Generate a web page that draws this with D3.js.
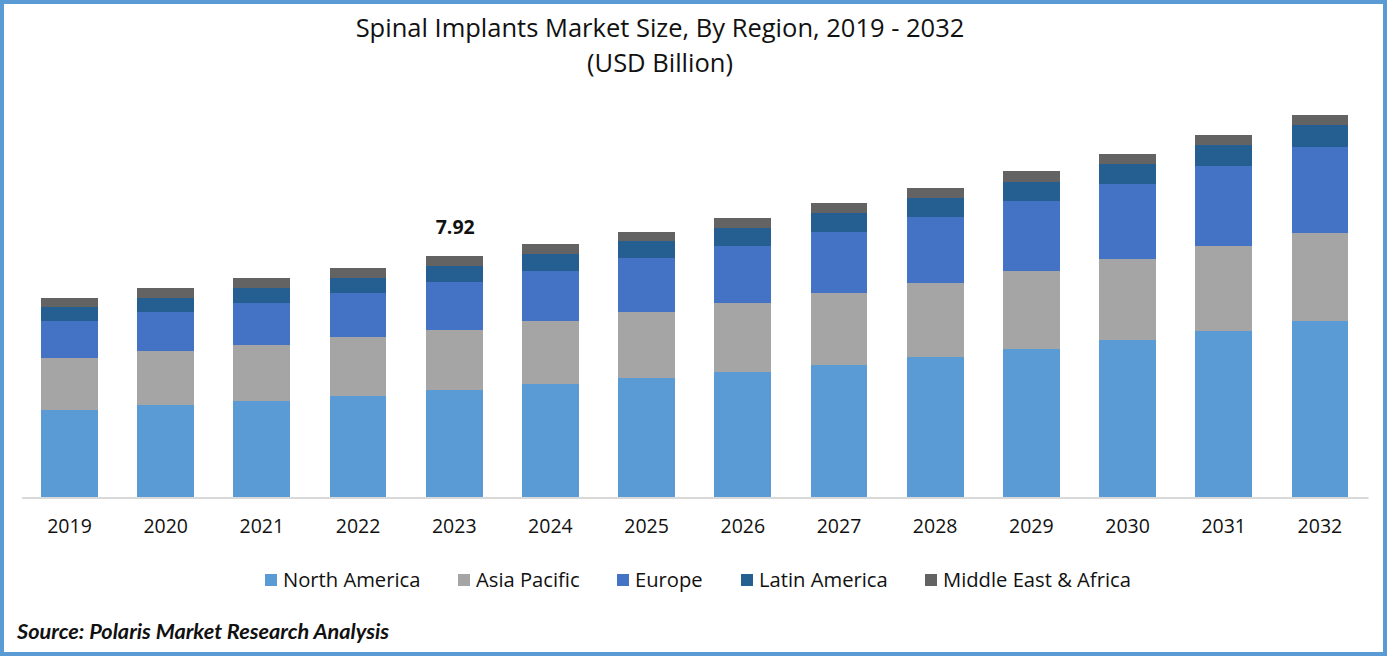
<!DOCTYPE html>
<html>
<head>
<meta charset="utf-8">
<script src="https://cdn.jsdelivr.net/npm/d3@7"></script>
<style>
  html, body { margin: 0; padding: 0; background: #fff; overflow: hidden; }
  svg { display: block; }
  text { font-family: "Open Sans", sans-serif; fill: #111; }
</style>
</head>
<body>
<script>
var years = ["2019", "2020", "2021", "2022", "2023", "2024", "2025", "2026", "2027", "2028", "2029", "2030", "2031", "2032"];
var regions = ["North America", "Asia Pacific", "Europe", "Latin America", "Middle East & Africa"];
var colors = ["#5b9bd5", "#a5a5a5", "#4472c4", "#255e91", "#636363"];

var northAmerica = [2.86, 3.02, 3.15, 3.32, 3.51, 3.71, 3.91, 4.11, 4.34, 4.60, 4.86, 5.16, 5.46, 5.78];
var asiaPacific  = [1.71, 1.77, 1.84, 1.94, 1.97, 2.07, 2.17, 2.27, 2.37, 2.43, 2.56, 2.66, 2.79, 2.89];
var europe       = [1.22, 1.28, 1.38, 1.45, 1.58, 1.64, 1.77, 1.87, 2.00, 2.17, 2.30, 2.46, 2.63, 2.83];
var latinAmerica = [0.46, 0.46, 0.49, 0.49, 0.53, 0.56, 0.56, 0.59, 0.62, 0.62, 0.62, 0.66, 0.69, 0.72];
var middleEast   = [0.30, 0.33, 0.33, 0.33, 0.33, 0.33, 0.30, 0.33, 0.33, 0.33, 0.36, 0.33, 0.33, 0.33];

var labelYear = "2023";
var labelText = "7.92";

function main() {
    var width = 1387, height = 656;
    var baseline = 497;
    var pxPerUnit = 241 / 7.92;

    var svg = d3.select("body").append("svg")
        .attr("width", width).attr("height", height);

    // outer frame
    svg.append("rect")
        .attr("x", 2).attr("y", 2)
        .attr("width", width - 4).attr("height", height - 4)
        .attr("fill", "#fff")
        .attr("stroke", "#5b9bd5")
        .attr("stroke-width", 4);

    svg.append("text").text("Spinal Implants Market Size, By Region, 2019 - 2032")
        .attr("x", 660).attr("y", 37)
        .attr("text-anchor", "middle").attr("font-size", "25.5px");
    svg.append("text").text("(USD Billion)")
        .attr("x", 660).attr("y", 72)
        .attr("text-anchor", "middle").attr("font-size", "25.5px");

    var table = years.map(function(y, i) {
        return {
            year: y,
            "North America": northAmerica[i],
            "Asia Pacific": asiaPacific[i],
            "Europe": europe[i],
            "Latin America": latinAmerica[i],
            "Middle East & Africa": middleEast[i]
        };
    });
    var stacked = d3.stack().keys(regions)(table);

    var x = d3.scaleBand().domain(years)
        .range([21.4, 1368])
        .paddingInner(0.41).paddingOuter(0.205);
    var yMax = baseline / pxPerUnit;
    var y = d3.scaleLinear().domain([0, yMax]).range([baseline, 0]);

    svg.selectAll("g.series")
        .data(stacked)
        .enter()
        .append("g")
        .attr("class", "series")
        .attr("fill", function(d, i) { return colors[i]; })
        .attr("shape-rendering", "crispEdges")
        .selectAll("rect")
        .data(function(d) { return d; })
        .enter()
        .append("rect")
        .attr("x", function(d) { return x(d.data.year); })
        .attr("y", function(d) { return y(d[1]); })
        .attr("width", x.bandwidth())
        .attr("height", function(d) { return y(d[0]) - y(d[1]); });

    var axis = svg.append("g")
        .attr("transform", "translate(0," + (baseline + 0.5) + ")")
        .call(d3.axisBottom(x).tickSize(0).tickPadding(22));
    axis.select(".domain").attr("stroke", "#d9d9d9").attr("stroke-width", 2);
    axis.selectAll("text").attr("font-size", "19.5px")
        .attr("font-family", "\"Open Sans\", sans-serif").attr("fill", "#111");

    var top = stacked[stacked.length - 1][years.indexOf(labelYear)][1];
    svg.append("text").text(labelText)
        .attr("x", x(labelYear) + x.bandwidth() / 2 + 1)
        .attr("y", y(top) - 22)
        .attr("text-anchor", "middle")
        .attr("font-size", "19.5px").attr("font-weight", "bold");

    // legend, item starts
    var legendX = [265, 458, 617, 741, 925];
    var legend = svg.selectAll("g.legend")
        .data(regions)
        .enter()
        .append("g")
        .attr("class", "legend")
        .attr("transform", function(d, i) { return "translate(" + legendX[i] + ",574)"; });
    legend.append("rect")
        .attr("width", 12).attr("height", 12)
        .attr("fill", function(d, i) { return colors[i]; });
    legend.append("text").text(function(d) { return d; })
        .attr("x", 18).attr("y", 13)
        .attr("font-size", "20.2px");

    svg.append("text").text("Source: Polaris Market Research Analysis")
        .attr("x", 17).attr("y", 639)
        .attr("font-size", "21.7px")
        .style("font-family", "Lato, sans-serif")
        .attr("font-weight", "bold").attr("font-style", "italic");
}

window.onload = main;
</script>
</body>
</html>
